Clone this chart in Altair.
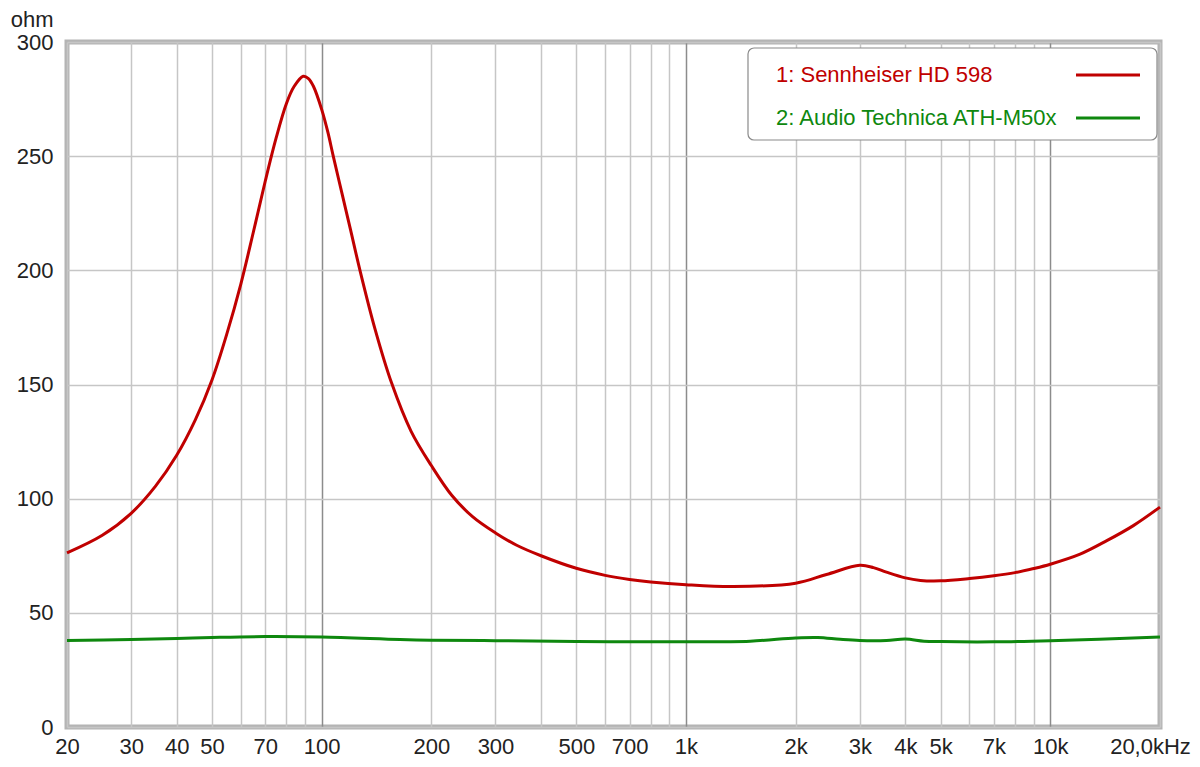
import altair as alt
import pandas as pd

series_names = ["1: Sennheiser HD 598", "2: Audio Technica ATH-M50x"]
series_colors = ["#c00000", "#0e880e"]

hd598_freq = [20, 25, 30, 35, 40, 45, 50, 55, 60, 65, 70, 75, 80, 84, 89, 92, 95, 100, 104,
              107.6, 114, 120, 127.4, 140, 155.7, 176, 200, 227.5, 260, 300, 343, 400,
              500, 600, 700, 800, 1000, 1350, 2000, 2430, 3000, 3270, 3550, 4000, 4400,
              5000, 6000, 7000, 8000, 9000, 10000, 12070, 14290, 16900, 20000]
hd598_ohm = [76.3, 84.0, 93.6, 105.5, 119.0, 134.5, 152.0, 172.5, 194.0, 217.0, 239.0, 258.0,
             273.0, 280.5, 285.0, 284.0, 280.5, 270.5, 260.5, 250.0, 232.9, 217.8, 200.0,
             174.5, 150.5, 129.5, 114.5, 101.5, 92.0, 85.0, 79.6, 75.0, 69.5, 66.4, 64.6,
             63.5, 62.3, 61.5, 63.0, 66.8, 70.8, 69.8, 67.8, 65.3, 64.2, 64.0, 65.0,
             66.2, 67.6, 69.4, 71.3, 75.7, 81.6, 88.2, 96.3]

m50x_freq = [20, 30, 40, 50, 70, 100, 164, 200, 300, 500, 700, 1000, 1500, 2000, 2300,
             2650, 3000, 3550, 4000, 4500, 5000, 7000, 10000, 20000]
m50x_ohm = [37.9, 38.3, 38.8, 39.2, 39.6, 39.4, 38.3, 38.0, 37.8, 37.4, 37.3, 37.3, 37.6,
            39.0, 39.2, 38.4, 37.9, 37.9, 38.5, 37.6, 37.4, 37.3, 37.8, 39.4]

grid_freqs = [20, 30, 40, 50, 60, 70, 80, 90, 100, 200, 300, 400, 500, 600, 700, 800, 900,
              1000, 2000, 3000, 4000, 5000, 6000, 7000, 8000, 9000, 10000, 20000]
tick_freqs = [20, 30, 40, 50, 70, 100, 200, 300, 500, 700, 1000, 2000, 3000, 4000, 5000,
              7000, 10000, 20000]
tick_texts = ["20", "30", "40", "50", "70", "100", "200", "300", "500", "700", "1k", "2k",
              "3k", "4k", "5k", "7k", "10k", "20,0kHz"]
decade_freqs = [100, 1000, 10000]
y_ticks = [0, 50, 100, 150, 200, 250, 300]

rows = []
for name, fr, vals in [(series_names[0], hd598_freq, hd598_ohm),
                       (series_names[1], m50x_freq, m50x_ohm)]:
    for f, v in zip(fr, vals):
        rows.append({"series": name, "freq": f, "ohm": v})
df = pd.DataFrame(rows)

label_expr = "".join(f"datum.value == {f} ? '{t}' : " for f, t in zip(tick_freqs, tick_texts)) + "''"
decade_test = " || ".join(f"datum.value == {f}" for f in decade_freqs)

FONT = "Liberation Sans"
FS = 22
TXT = "#222222"

lines = alt.Chart(df).mark_line(strokeWidth=3, interpolate="catmull-rom").encode(
    x=alt.X("freq:Q",
            scale=alt.Scale(type="log", domain=[20, 20000], nice=False),
            axis=alt.Axis(values=grid_freqs, labelExpr=label_expr, title=None,
                          grid=True,
                          gridColor=alt.condition(decade_test, alt.value("#8c8c8c"), alt.value("#c6c6c6")),
                          gridWidth=1.5, domain=False, ticks=False,
                          labelOverlap=False, labelFlush=False, labelBound=False,
                          labelFont=FONT, labelFontSize=FS, labelColor=TXT,
                          labelPadding=9,
                          labelOffset=alt.condition("datum.value == 20000", alt.value(-10), alt.value(0)))),
    y=alt.Y("ohm:Q",
            scale=alt.Scale(domain=[0, 300], nice=False),
            axis=alt.Axis(values=y_ticks, title="ohm", titleAngle=0, titleAlign="right",
                          titleBaseline="alphabetic", titleX=-14, titleY=-16,
                          titleFont=FONT, titleFontSize=FS, titleFontWeight="normal",
                          titleColor=TXT,
                          grid=True, gridColor="#c6c6c6", gridWidth=1.5,
                          domain=False, ticks=False, labelPadding=14,
                          labelFont=FONT, labelFontSize=FS, labelColor=TXT)),
    color=alt.Color("series:N", scale=alt.Scale(domain=series_names, range=series_colors),
                    legend=None),
    order=alt.Order("freq:Q"),
)

box = alt.Chart(pd.DataFrame({"a": [0]})).mark_rect(
    fill="white", stroke="#8a8a8a", strokeWidth=1.2, cornerRadius=6
).encode(x=alt.value(681), x2=alt.value(1090), y=alt.value(6), y2=alt.value(98))

layers = [lines, box]
for i, (name, col) in enumerate(zip(series_names, series_colors)):
    ly = 33 + i * 43
    ldf = pd.DataFrame({"series": [name]})
    layers.append(alt.Chart(ldf).mark_text(
        align="left", baseline="middle", font=FONT, fontSize=FS, color=col
    ).encode(text="series:N", x=alt.value(709), y=alt.value(ly)))
    layers.append(alt.Chart(ldf).mark_rule(color=col, strokeWidth=3).encode(
        x=alt.value(1009), x2=alt.value(1073), y=alt.value(ly)))

chart = alt.layer(*layers).properties(
    width=1093, height=685,
    autosize=alt.AutoSizeParams(type="none"),
    padding={"left": 59, "top": 34, "right": 32, "bottom": 30},
    background="white",
).configure_view(stroke="#b4b4b4", strokeWidth=5)

chart.save("out.html", embed_options={"renderer": "svg", "actions": False})
